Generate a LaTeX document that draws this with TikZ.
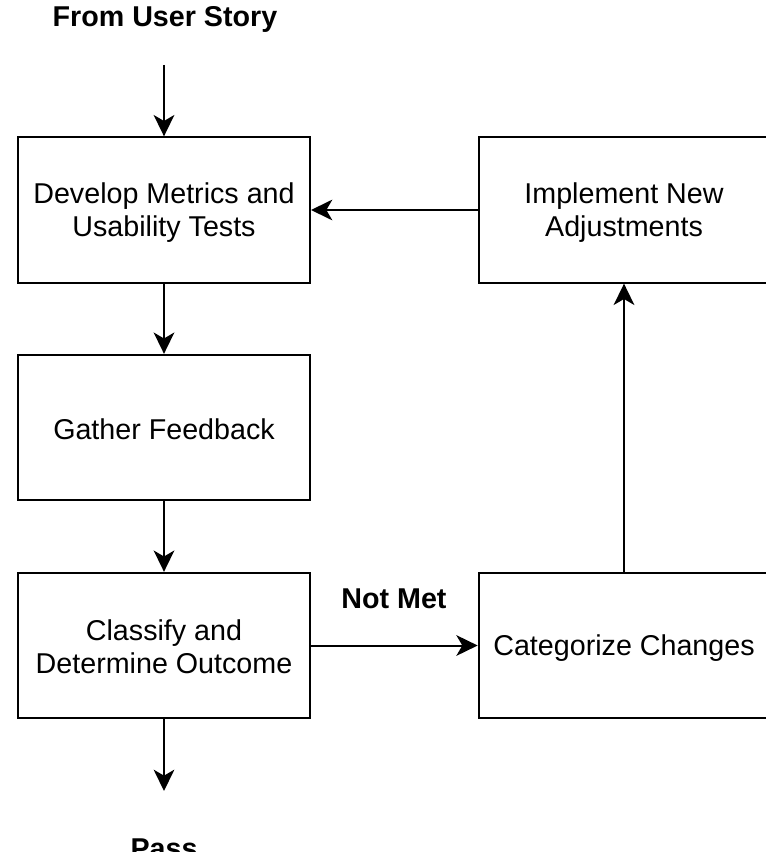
\documentclass[tikz,border=0pt]{standalone}
\usepackage{fontspec}
\setmainfont{Liberation Sans}
\usetikzlibrary{arrows.meta}
\newcommand{\lnstrut}{\vrule height 20pt depth 2.4pt width 0pt}
\tikzset{
  stepbox/.style={draw=black, line width=1.5pt, fill=white, minimum width=219pt, minimum height=109pt, align=center, inner sep=0pt, font=\fontsize{21.5}{24.75}\selectfont},
  conn/.style={line width=1.5pt, -{Stealth[length=16pt,width=15.5pt,inset=4.5pt]}},
  lbl/.style={font=\fontsize{21.5}{24.75}\selectfont\bfseries, inner sep=0pt, anchor=base}
}
\begin{document}
\begin{tikzpicture}[x=0.75pt,y=-0.75pt]
\useasboundingbox[fill=white] (0,0) rectangle (766,852);
\node[stepbox] (dev) at (164,210) {\lnstrut Develop Metrics and\\\lnstrut Usability Tests};
\node[stepbox] (gat) at (164,427.5) {\lnstrut Gather Feedback};
\node[stepbox] (cls) at (164,645.5) {\lnstrut Classify and\\\lnstrut Determine Outcome};
\node[stepbox, minimum width=218pt] (imp) at (624,210) {\lnstrut Implement New\\\lnstrut Adjustments};
\node[stepbox, minimum width=218pt] (cat) at (624,645.5) {\lnstrut Categorize Changes};
\node[lbl] (from) at (165,27) {From User Story};
\node[lbl] (pass) at (164,858) {Pass};
\node[lbl] (notmet) at (394,608) {Not Met};
\coordinate (topin) at (164,65);
\coordinate (passend) at (164,791);
\draw[conn] (topin) -- (dev.north);
\draw[conn] (dev.south) -- (gat.north);
\draw[conn] (gat.south) -- (cls.north);
\draw[conn] (cls.south) -- (passend);
\draw[conn] (cls.east) -- (cat.west);
\draw[conn] (cat.north) -- (imp.south);
\draw[conn] (imp.west) -- (dev.east);
\end{tikzpicture}
\end{document}
